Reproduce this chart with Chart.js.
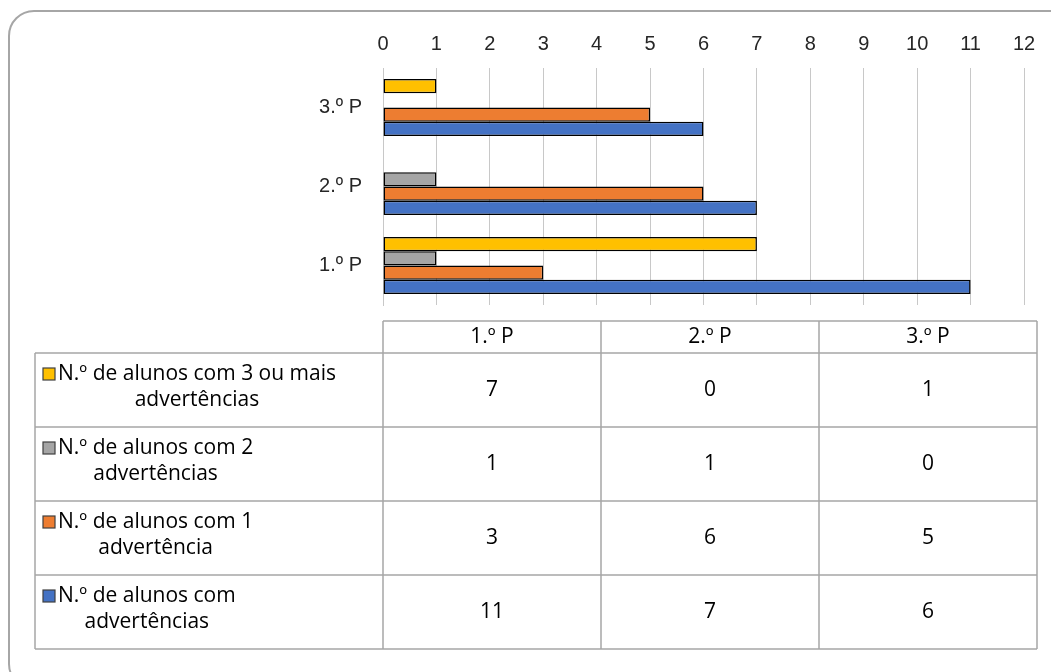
<!DOCTYPE html>
<html>
<head>
<meta charset="utf-8">
<script src="https://cdn.jsdelivr.net/npm/chart.js@4/dist/chart.umd.min.js"></script>
<style>
    html, body { margin: 0; padding: 0; background: #fff; overflow: hidden; }
    #frame {
        position: absolute; left: 8px; top: 10px; width: 1100px; height: 680px;
        border: 2px solid #a6a6a6; border-radius: 26px; box-sizing: border-box;
    }
    #wrap { position: absolute; left: 0; top: 0; width: 1051px; height: 672px; }
</style>
</head>
<body>
<div id="frame"></div>
<div id="wrap"><canvas id="grafico" width="1051" height="672"></canvas></div>
<script>
document.addEventListener("DOMContentLoaded", function() {
    'use strict';

    // periodos (categorias)
    var periodos = ['1.º P', '2.º P', '3.º P'];

    // series (ordem da tabela, de cima para baixo)
    var tres_ou_mais = [7, 0, 1];
    var duas = [1, 1, 0];
    var uma = [3, 6, 5];
    var com_advertencias = [11, 7, 6];

    var nomes = [
        'N.º de alunos com 3 ou mais advertências',
        'N.º de alunos com 2 advertências',
        'N.º de alunos com 1 advertência',
        'N.º de alunos com advertências'
    ];
    var cores = ['#FFC000', '#A5A5A5', '#ED7D31', '#4472C4'];
    var valores = [tres_ou_mais, duas, uma, com_advertencias];

    var eixo_x_max = 12;

    var fonte_eixo = "'Liberation Sans Narrow', 'Liberation Sans', Arial, sans-serif";
    var fonte_tabela = "'Open Sans', 'Noto Sans', sans-serif";

    // tabela de dados desenhada por baixo do grafico
    var tabela_plugin = {
        id: 'tabela',
        afterDraw: function(chart) {
            var ctx = chart.ctx;
            var area = chart.chartArea;
            var x0 = area.left, x1 = 1037, xl = 35;
            var topo = 321, cab = 32, alt = 74;
            var larg = (x1 - x0) / periodos.length;
            var fim = topo + cab + alt * nomes.length;

            ctx.save();
            ctx.strokeStyle = '#a6a6a6';
            ctx.lineWidth = 1.5;
            ctx.beginPath();
            ctx.moveTo(x0, topo); ctx.lineTo(x1, topo);
            for (var r = 0; r <= nomes.length; r++) {
                var yy = topo + cab + r * alt;
                ctx.moveTo(xl, yy); ctx.lineTo(x1, yy);
            }
            for (var c = 0; c <= periodos.length; c++) {
                ctx.moveTo(x0 + c * larg, topo); ctx.lineTo(x0 + c * larg, fim);
            }
            ctx.moveTo(xl, topo + cab); ctx.lineTo(xl, fim);
            ctx.stroke();

            ctx.fillStyle = '#000';
            ctx.font = '21px ' + fonte_tabela;
            ctx.textAlign = 'center';
            ctx.textBaseline = 'middle';
            periodos.forEach(function(p, i) {
                ctx.fillText(p, x0 + larg * (i + 0.5), topo + cab / 2);
            });

            nomes.forEach(function(nome, r) {
                var cy = topo + cab + alt * (r + 0.5);
                valores[r].forEach(function(v, i) {
                    ctx.fillStyle = '#000';
                    ctx.fillText(String(v), x0 + larg * (i + 0.5), cy);
                });

                // quebra de linha do nome
                var palavras = nome.split(' ');
                var linhas = [];
                var atual = '';
                palavras.forEach(function(w) {
                    var t = atual ? atual + ' ' + w : w;
                    if (ctx.measureText(t).width > 295 && atual) {
                        linhas.push(atual);
                        atual = w;
                    } else {
                        atual = t;
                    }
                });
                linhas.push(atual);

                var wmax = 0;
                linhas.forEach(function(l) { wmax = Math.max(wmax, ctx.measureText(l).width); });
                var xt = 58;
                var y1 = cy - 13 * (linhas.length - 1) - 3;
                ctx.fillStyle = '#000';
                ctx.textAlign = 'center';
                linhas.forEach(function(l, k) {
                    ctx.fillText(l, xt + wmax / 2, y1 + 26 * k);
                });
                ctx.fillStyle = cores[r];
                ctx.fillRect(43, y1 - 6, 12, 12);
                ctx.strokeStyle = '#404040';
                ctx.lineWidth = 1.2;
                ctx.strokeRect(43, y1 - 6, 12, 12);
            });
            ctx.restore();
        }
    };

    var datasets = nomes.map(function(nome, i) {
        return {
            label: nome,
            data: valores[i],
            backgroundColor: cores[i],
            borderColor: '#000',
            borderWidth: function(c) { return c.raw === 0 ? 0 : 1.5; },
            borderSkipped: false,
            categoryPercentage: 0.72,
            barPercentage: 1.0
        };
    });

    new Chart(document.getElementById('grafico').getContext('2d'), {
        type: 'bar',
        data: {
            labels: periodos,
            datasets: datasets
        },
        plugins: [tabela_plugin],
        options: {
            indexAxis: 'y',
            responsive: false,
            animation: false,
            layout: { padding: { left: 0, top: 0, right: 27, bottom: 367 } },
            plugins: {
                legend: { display: false },
                tooltip: { enabled: false }
            },
            scales: {
                x: {
                    position: 'top',
                    min: 0,
                    max: eixo_x_max,
                    ticks: {
                        stepSize: 1,
                        padding: 12,
                        color: '#262626',
                        font: { family: fonte_eixo, size: 20 }
                    },
                    grid: { color: '#c8c8c8', lineWidth: 1, drawTicks: false },
                    border: { display: false },
                    afterFit: function(scale) { scale.height = 68; }
                },
                y: {
                    reverse: true,
                    ticks: {
                        padding: 21,
                        color: '#262626',
                        font: { family: fonte_eixo, size: 20 }
                    },
                    grid: { display: false, drawTicks: false },
                    border: { display: true, color: '#c8c8c8' },
                    afterFit: function(scale) { scale.width = 383; }
                }
            }
        }
    });
});
</script>
</body>
</html>
